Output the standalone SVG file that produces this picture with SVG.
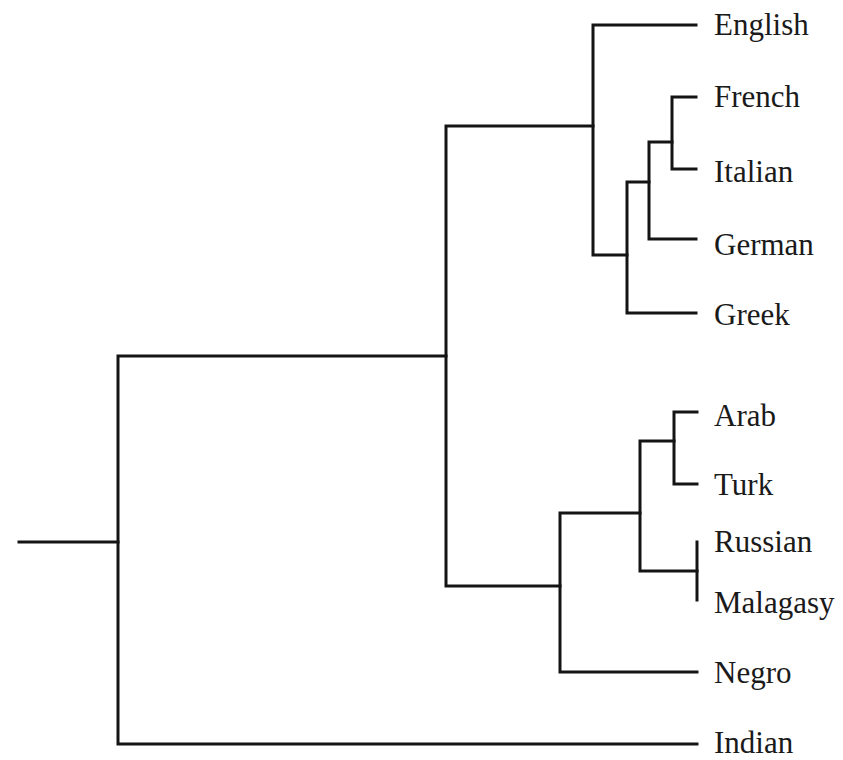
<svg xmlns="http://www.w3.org/2000/svg" width="843" height="760" viewBox="0 0 843 760">
<style>
.lbl{font-family:"Liberation Serif","Times New Roman",serif;font-size:31px;fill:#1a1a1a}
.br{fill:none;stroke:#141414;stroke-width:3;stroke-linecap:square;stroke-linejoin:miter}
</style>
<rect width="843" height="760" fill="#fff"/>
<g id="connectors">
<path class="br" d="M19 542H118"/>
<path class="br" d="M446 356H118V744H697"/>
<path class="br" d="M593 126H446V586H560"/>
<path class="br" d="M696 25H593V255H627"/>
<path class="br" d="M696 97H672V169H696"/>
<path class="br" d="M672 142H649V239H696"/>
<path class="br" d="M649 182H627V313H696"/>
<path class="br" d="M640 513H560V672H697"/>
<path class="br" d="M697 412H674V484H697"/>
<path class="br" d="M674 441H640V571H697"/>
<path class="br" d="M697 542V600"/>
</g>
<g id="English"><text class="lbl" x="714" y="35">English</text></g>
<g id="French"><text class="lbl" x="714" y="107">French</text></g>
<g id="Italian"><text class="lbl" x="714" y="182">Italian</text></g>
<g id="German"><text class="lbl" x="714" y="255">German</text></g>
<g id="Greek"><text class="lbl" x="714" y="325">Greek</text></g>
<g id="Arab"><text class="lbl" x="714" y="426">Arab</text></g>
<g id="Turk"><text class="lbl" x="714" y="495">Turk</text></g>
<g id="Russian"><text class="lbl" x="714" y="552">Russian</text></g>
<g id="Malagasy"><text class="lbl" x="714" y="613">Malagasy</text></g>
<g id="Negro"><text class="lbl" x="714" y="683">Negro</text></g>
<g id="Indian"><text class="lbl" x="714" y="753">Indian</text></g>
</svg>
